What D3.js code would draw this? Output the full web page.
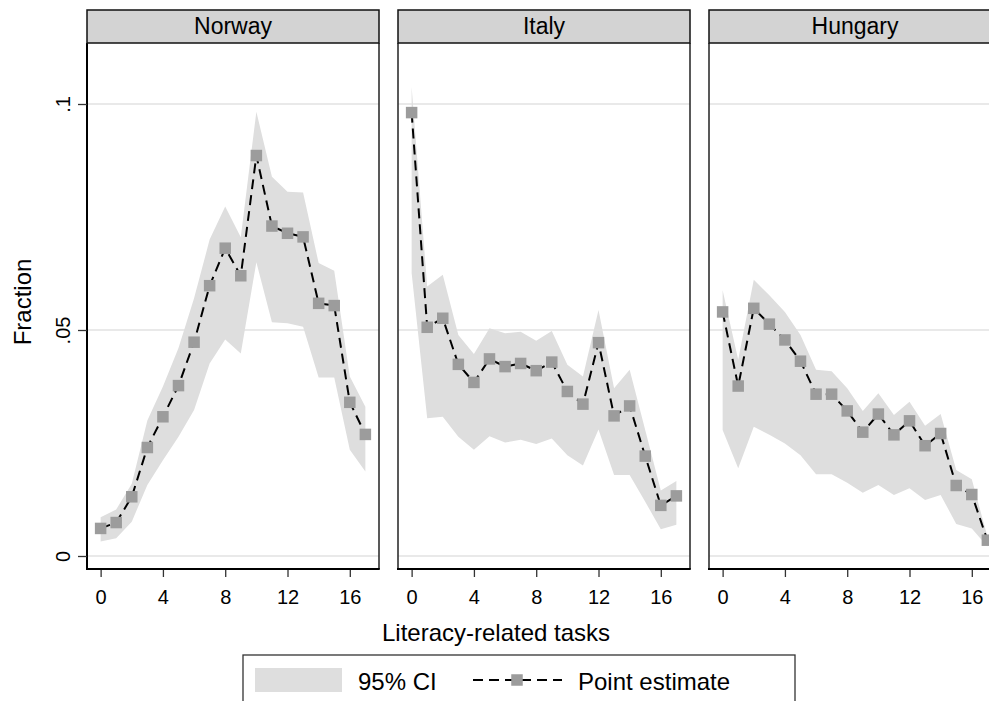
<!DOCTYPE html>
<html>
<head>
<meta charset="utf-8">
<script src="https://cdn.jsdelivr.net/npm/d3@7/dist/d3.min.js"></script>
<style>
  html, body { margin: 0; padding: 0; background: #fff; }
  svg { display: block; font-family: "Liberation Sans", Arial, Helvetica, sans-serif; }
</style>
</head>
<body>
<svg id="chart" width="989" height="701"></svg>
<script>
// ---------- data ----------
const tasks = [0,1,2,3,4,5,6,7,8,9,10,11,12,13,14,15,16,17];
const countries = ["Norway", "Italy", "Hungary"];
const xTicks = [0, 4, 8, 12, 16];
const yTicks = [0, 0.05, 0.1];
const yTickLabels = ["0", ".05", ".1"];

const norwayEst = [0.0061,0.0074,0.0131,0.0240,0.0308,0.0377,0.0473,0.0598,0.0681,0.0620,0.0886,0.0730,0.0714,0.0706,0.0559,0.0554,0.0340,0.0269];
const norwayHi  = [0.0086,0.0103,0.0160,0.0300,0.0375,0.0460,0.0570,0.0700,0.0773,0.0705,0.0983,0.0839,0.0806,0.0804,0.0648,0.0631,0.0397,0.0330];
const norwayLo  = [0.0032,0.0039,0.0076,0.0157,0.0212,0.0264,0.0323,0.0426,0.0479,0.0448,0.0650,0.0517,0.0515,0.0507,0.0395,0.0395,0.0235,0.0187];

const italyEst = [0.0981,0.0506,0.0526,0.0424,0.0384,0.0436,0.0419,0.0426,0.0410,0.0429,0.0364,0.0336,0.0472,0.0310,0.0332,0.0221,0.0112,0.0133];
const italyHi  = [0.1038,0.0596,0.0622,0.0489,0.0447,0.0504,0.0493,0.0496,0.0476,0.0498,0.0423,0.0397,0.0544,0.0371,0.0412,0.0279,0.0145,0.0166];
const italyLo  = [0.0626,0.0305,0.0308,0.0264,0.0235,0.0265,0.0251,0.0257,0.0248,0.0260,0.0223,0.0200,0.0280,0.0179,0.0179,0.0120,0.0059,0.0069];

const hungaryEst = [0.0540,0.0376,0.0548,0.0513,0.0478,0.0431,0.0358,0.0358,0.0321,0.0274,0.0314,0.0268,0.0299,0.0244,0.0271,0.0156,0.0136,0.0035];
const hungaryHi  = [0.0588,0.0434,0.0611,0.0577,0.0540,0.0489,0.0412,0.0409,0.0371,0.0321,0.0360,0.0312,0.0341,0.0288,0.0314,0.0190,0.0170,0.0043];
const hungaryLo  = [0.0279,0.0194,0.0286,0.0268,0.0249,0.0223,0.0181,0.0181,0.0162,0.0140,0.0157,0.0135,0.0150,0.0124,0.0135,0.0071,0.0061,0.0021];

const seriesEst = [norwayEst, italyEst, hungaryEst];
const seriesHi = [norwayHi, italyHi, hungaryHi];
const seriesLo = [norwayLo, italyLo, hungaryLo];

// ---------- layout ----------
const svg = d3.select("#chart");
const panelLeft0 = 87, panelW = 292, panelStep = 311;
const headerTop = 10, headerBottom = 43, plotBottom = 569;

const y = d3.scaleLinear().domain([0, 0.1]).range([556, 104]);

const bandColor = "#dedede";
const markerColor = "#9c9c9c";
const gridColor = "#e2e2e2";
const headerColor = "#d3d3d3";
const dash = "10,6";

countries.forEach((name, i) => {
  const left = panelLeft0 + i * panelStep;
  const x = d3.scaleLinear().domain([-0.875, 17.875]).range([left, left + panelW]);
  const g = svg.append("g");

  // gridlines
  g.selectAll("line.grid").data(yTicks).enter().append("line")
    .attr("x1", left).attr("x2", left + panelW)
    .attr("y1", d => y(d)).attr("y2", d => y(d))
    .attr("stroke", gridColor).attr("stroke-width", 1.4);

  const rows = tasks.map((t, k) => ({ t, est: seriesEst[i][k], lo: seriesLo[i][k], hi: seriesHi[i][k] }));

  // CI band
  const area = d3.area().x(d => x(d.t)).y0(d => y(d.lo)).y1(d => y(d.hi));
  g.append("path").datum(rows).attr("d", area).attr("fill", bandColor).attr("stroke", "none");

  // dashed line
  const line = d3.line().x(d => x(d.t)).y(d => y(d.est));
  g.append("path").datum(rows).attr("d", line)
    .attr("fill", "none").attr("stroke", "#000").attr("stroke-width", 2)
    .attr("stroke-dasharray", dash);

  // markers
  const ms = 11.5;
  g.selectAll("rect.m").data(rows).enter().append("rect")
    .attr("x", d => x(d.t) - ms / 2).attr("y", d => y(d.est) - ms / 2)
    .attr("width", ms).attr("height", ms).attr("fill", markerColor);

  // panel frame sides
  g.append("line").attr("x1", left + panelW).attr("x2", left + panelW)
    .attr("y1", headerBottom).attr("y2", plotBottom)
    .attr("stroke", "#222").attr("stroke-width", 1.5);
  g.append("line").attr("x1", left).attr("x2", left)
    .attr("y1", headerBottom).attr("y2", plotBottom)
    .attr("stroke", i === 0 ? "#000" : "#222").attr("stroke-width", i === 0 ? 2 : 1.5);

  // header strip
  g.append("rect").attr("x", left).attr("y", headerTop)
    .attr("width", panelW).attr("height", headerBottom - headerTop)
    .attr("fill", headerColor).attr("stroke", "#111").attr("stroke-width", 1.5);
  g.append("text").attr("x", left + panelW / 2).attr("y", 34)
    .attr("text-anchor", "middle").attr("font-size", 23).attr("fill", "#000")
    .text(name);

  // x axis
  const xAxis = d3.axisBottom(x).tickValues(xTicks).tickSize(8).tickPadding(13).tickFormat(d3.format("d"));
  const ax = g.append("g").attr("transform", `translate(0,${plotBottom})`).call(xAxis);
  ax.select(".domain").remove();
  ax.selectAll(".tick line").attr("stroke", "#333").attr("stroke-width", 1.3);
  ax.selectAll(".tick text").attr("font-size", 20).attr("fill", "#000")
    .attr("font-family", '"Liberation Sans", Arial, sans-serif');
  g.append("line").attr("x1", left - 1).attr("x2", left + panelW + 0.75)
    .attr("y1", plotBottom).attr("y2", plotBottom)
    .attr("stroke", "#000").attr("stroke-width", 2);

  // y axis on first panel
  if (i === 0) {
    const yAxis = d3.axisLeft(y).tickValues(yTicks).tickSize(9)
      .tickFormat((d, k) => yTickLabels[k]);
    const ay = g.append("g").attr("transform", `translate(${left},0)`).call(yAxis);
    ay.select(".domain").remove();
    ay.selectAll(".tick line").attr("stroke", "#333").attr("stroke-width", 1.3);
    ay.selectAll(".tick text")
      .attr("transform", "rotate(-90)")
      .attr("x", 0).attr("y", -17).attr("dy", 0)
      .attr("text-anchor", "middle")
      .attr("font-size", 20).attr("fill", "#000")
      .attr("font-family", '"Liberation Sans", Arial, sans-serif');
  }
});

// axis titles
svg.append("text").attr("x", 496).attr("y", 641).attr("text-anchor", "middle")
  .attr("font-size", 24).attr("fill", "#000").text("Literacy-related tasks");
svg.append("text").attr("transform", "translate(31,302) rotate(-90)")
  .attr("text-anchor", "middle").attr("font-size", 24).attr("fill", "#000").text("Fraction");

// legend
const lg = svg.append("g");
lg.append("rect").attr("x", 243).attr("y", 655).attr("width", 552).attr("height", 60)
  .attr("fill", "#fff").attr("stroke", "#333").attr("stroke-width", 1.3);
lg.append("rect").attr("x", 255).attr("y", 668).attr("width", 87).attr("height", 24).attr("fill", bandColor);
lg.append("text").attr("x", 358).attr("y", 690).attr("font-size", 24).attr("fill", "#000").text("95% CI");
lg.append("line").attr("x1", 473).attr("x2", 562).attr("y1", 680).attr("y2", 680)
  .attr("stroke", "#000").attr("stroke-width", 2).attr("stroke-dasharray", dash);
lg.append("rect").attr("x", 517 - 5.75).attr("y", 680 - 5.75).attr("width", 11.5).attr("height", 11.5).attr("fill", markerColor);
lg.append("text").attr("x", 578).attr("y", 690).attr("font-size", 24).attr("fill", "#000").text("Point estimate");
</script>
</body>
</html>
